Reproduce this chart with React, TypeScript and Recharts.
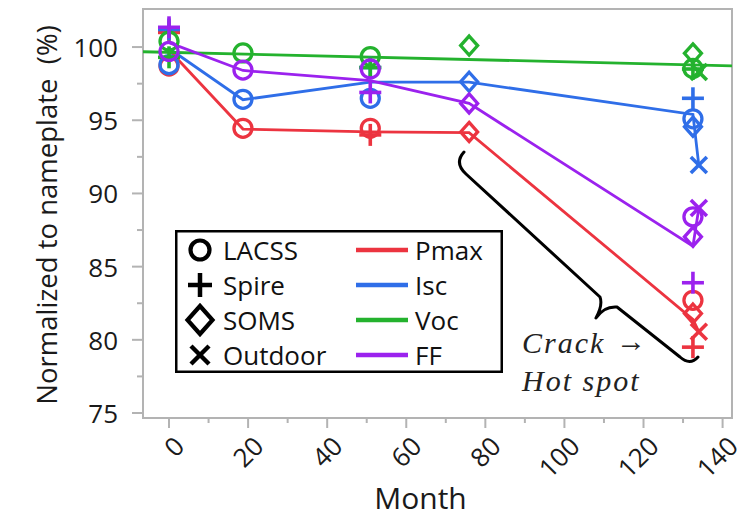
import React from 'react';
import { ComposedChart, Line, Scatter, XAxis, YAxis, ReferenceArea, Legend } from 'recharts';

// ---------- data ----------
const params = ['Pmax', 'Isc', 'Voc', 'FF'];
const methods = ['LACSS', 'Spire', 'SOMS', 'Outdoor'];
const COLORS: Record<string, string> = { Pmax: '#EC3440', Isc: '#2F6EE8', Voc: '#24B22E', FF: '#9B22EE' };

const xTicks = [0, 10, 20, 30, 40, 50, 60, 70, 80, 90, 100, 110, 120, 130, 140];
const yTicks = [75, 77.5, 80, 82.5, 85, 87.5, 90, 92.5, 95, 97.5, 100];
const xDomain = [-6.58, 142.38];
const yDomain = [74.66, 102.6];

// trend lines (mean of lab measurements, then to outdoor)
const trendMonths = [0, 18.7, 50.9, 75.9, 132.5, 134];
const pmaxTrend = [99.8, 94.4, 94.2, 94.15, 81.4, 80.55];
const iscTrend = [99.9, 96.4, 97.6, 97.6, 95.4, 91.9];
const ffTrend = [100.3, 98.4, 97.7, 96.15, 86.4, 89.0];
// Voc linear fit
const vocFitMonths = [-6.58, 142.38];
const vocFit = [99.68, 98.72];

// markers
const lacssMonths = [0, 18.7, 50.9, 132.5];
const lacssPmax = [98.7, 94.45, 94.45, 82.7];
const lacssIsc = [98.8, 96.43, 96.5, 95.1];
const lacssVoc = [100.4, 99.6, 99.35, 98.54];
const lacssFF = [99.7, 98.43, 98.5, 88.4];

const spireMonths = [0, 50.9, 132.5];
const spirePmax = [101.0, 94.0, 79.5];
const spireIsc = [101.2, 98.6, 96.5];
const spireVoc = [99.3, 98.6, 98.5];
const spireFF = [101.35, 96.9, 83.9];

const somsMonths = [75.9, 132.5];
const somsPmax = [94.2, 81.8];
const somsIsc = [97.63, 94.56];
const somsVoc = [100.1, 99.57];
const somsFF = [96.15, 87.04];

const outdoorMonths = [134];
const outdoorPmax = [80.55];
const outdoorIsc = [91.94];
const outdoorVoc = [98.3];
const outdoorFF = [89.0];

const annotationLines = ['Crack', '\u2192', 'Hot spot'];

// ---------- build series ----------
const toLine = (xs: number[], ys: number[]) => xs.map((x, i) => ({ x, y: ys[i] }));
const trendData: Record<string, { x: number; y: number }[]> = {
  Pmax: toLine(trendMonths, pmaxTrend),
  Isc: toLine(trendMonths, iscTrend),
  Voc: toLine(vocFitMonths, vocFit),
  FF: toLine(trendMonths, ffTrend),
};
const methodTable: Record<string, { months: number[]; vals: Record<string, number[]> }> = {
  LACSS: { months: lacssMonths, vals: { Pmax: lacssPmax, Isc: lacssIsc, Voc: lacssVoc, FF: lacssFF } },
  Spire: { months: spireMonths, vals: { Pmax: spirePmax, Isc: spireIsc, Voc: spireVoc, FF: spireFF } },
  SOMS: { months: somsMonths, vals: { Pmax: somsPmax, Isc: somsIsc, Voc: somsVoc, FF: somsFF } },
  Outdoor: { months: outdoorMonths, vals: { Pmax: outdoorPmax, Isc: outdoorIsc, Voc: outdoorVoc, FF: outdoorFF } },
};
const markerData = (p: string) => {
  const out: { x: number; y: number; method: string }[] = [];
  methods.forEach((m) => {
    const t = methodTable[m];
    t.months.forEach((x, i) => out.push({ x, y: t.vals[p][i], method: m }));
  });
  return out;
};

// ---------- shapes ----------
const MarkerShape = ({ kind, cx, cy, color, big }: any) => {
  const sw = big ? 4.2 : 3.3;
  if (kind === 'LACSS') {
    return <circle cx={cx} cy={cy} r={big ? 9.5 : 9} fill="none" stroke={color} strokeWidth={sw} />;
  }
  if (kind === 'Spire') {
    const h = big ? 12 : 11;
    return (
      <g stroke={color} strokeWidth={big ? 4.5 : 3.6} fill="none">
        <line x1={cx - h} y1={cy} x2={cx + h} y2={cy} />
        <line x1={cx} y1={cy - h} x2={cx} y2={cy + h} />
      </g>
    );
  }
  if (kind === 'SOMS') {
    const w = big ? 12.5 : 8.5;
    const hh = big ? 14 : 9.5;
    return (
      <polygon
        points={`${cx},${cy - hh} ${cx + w},${cy} ${cx},${cy + hh} ${cx - w},${cy}`}
        fill="none"
        stroke={color}
        strokeWidth={sw}
      />
    );
  }
  const h = big ? 9 : 8;
  return (
    <g stroke={color} strokeWidth={big ? 4.5 : 3.6}>
      <line x1={cx - h} y1={cy - h} x2={cx + h} y2={cy + h} />
      <line x1={cx - h} y1={cy + h} x2={cx + h} y2={cy - h} />
    </g>
  );
};

const FONT = '"Open Sans", "Liberation Sans", sans-serif';
const GRAY = '#b3b3b3';

const XTick = ({ x, y, payload }: any) => {
  const major = payload.value % 20 === 0;
  const ax = x + 10;
  const ay = y + 23;
  return (
    <g>
      <line x1={x} y1={y} x2={x} y2={y + (major ? 10 : 5)} stroke={GRAY} strokeWidth={2} />
      {major && (
        <text
          x={ax}
          y={ay}
          transform={`rotate(-45, ${ax}, ${ay})`}
          textAnchor="end"
          dominantBaseline="central"
          fontSize={26}
          fontFamily={FONT}
          fill="#1a1a1a"
        >
          {payload.value}
        </text>
      )}
    </g>
  );
};

const YTick = ({ x, y, payload }: any) => {
  const major = payload.value % 5 === 0;
  return (
    <g>
      <line x1={x - (major ? 11 : 6)} y1={y} x2={x} y2={y} stroke={GRAY} strokeWidth={2} />
      {major && (
        <text x={x - 25} y={y} textAnchor="end" dominantBaseline="central" fontSize={26} fontFamily={FONT} fill="#1a1a1a">
          {payload.value}
        </text>
      )}
    </g>
  );
};

const XTitle = (props: any) => {
  const vb = props.viewBox;
  return (
    <text
      x={vb.x + vb.width / 2 - 17}
      y={vb.y + 79}
      textAnchor="middle"
      dominantBaseline="central"
      fontSize={30}
      fontFamily={FONT}
      fill="#1a1a1a"
    >
      Month
    </text>
  );
};

const YTitle = (props: any) => {
  const vb = props.viewBox;
  const cx = vb.x + 46;
  const cy = vb.y + vb.height / 2 + 1.5;
  return (
    <text
      x={cx}
      y={cy}
      transform={`rotate(-90, ${cx}, ${cy})`}
      textAnchor="middle"
      dominantBaseline="central"
      fontSize={27.5}
      fontFamily={FONT}
      fill="#1a1a1a"
      style={{ whiteSpace: 'pre' }}
    >
      {'Normalized to nameplate  (%)'}
    </text>
  );
};

const rowY = [20, 55, 90, 125];
const LegendBox = () => (
  <svg width={328} height={143} style={{ display: 'block' }}>
    <rect x={1.25} y={1.25} width={325.5} height={140.5} fill="#fff" stroke="#000" strokeWidth={2.5} />
    {methods.map((m, i) => (
      <g key={m}>
        <MarkerShape kind={m} cx={25} cy={rowY[i]} color="#000" big />
        <text x={48} y={rowY[i]} dominantBaseline="central" fontSize={26} fontFamily={FONT} fill="#111">
          {m}
        </text>
      </g>
    ))}
    {params.map((p, i) => (
      <g key={p}>
        <line x1={181} x2={233} y1={rowY[i]} y2={rowY[i]} stroke={COLORS[p]} strokeWidth={4.5} />
        <text x={240} y={rowY[i]} dominantBaseline="central" fontSize={26} fontFamily={FONT} fill="#111">
          {p}
        </text>
      </g>
    ))}
  </svg>
);

const SERIF = '"Liberation Serif", "Times New Roman", serif';
const Annotation = () => (
  <svg width={754} height={517} style={{ position: 'absolute', left: 0, top: 0, pointerEvents: 'none' }}>
    <path
      d="M 464 152 Q 454 163 466 174 L 600 297 Q 603 305 596 318 Q 604 306 617 307 L 680 357 Q 690 366 698 357"
      fill="none"
      stroke="#000"
      strokeWidth={3}
      strokeLinejoin="round"
      strokeLinecap="round"
    />
    <text x={522} y={353} fontSize={30} fontStyle="italic" fontFamily={SERIF} fill="#222" letterSpacing={2}>
      {annotationLines[0]}
    </text>
    <text x={616} y={351} fontSize={30} fontFamily={SERIF} fill="#222">
      {annotationLines[1]}
    </text>
    <text x={522} y={391} fontSize={30} fontStyle="italic" fontFamily={SERIF} fill="#222" letterSpacing={2} style={{ whiteSpace: 'pre' }}>
      {annotationLines[2]}
    </text>
  </svg>
);

export default function App() {
  return (
    <div style={{ position: 'absolute', left: 0, top: 0, width: 754, height: 517, background: '#fff' }}>
      <ComposedChart width={754} height={517} margin={{ top: 9, right: 22, bottom: 0, left: 0 }}>
        <XAxis
          type="number"
          dataKey="x"
          domain={xDomain}
          allowDataOverflow
          ticks={xTicks}
          interval={0}
          tick={<XTick />}
          tickSize={0}
          tickMargin={0}
          tickLine={false}
          axisLine={false}
          height={99}
          label={{ content: XTitle }}
        />
        <YAxis
          type="number"
          dataKey="y"
          domain={yDomain}
          allowDataOverflow
          ticks={yTicks}
          interval={0}
          tick={<YTick />}
          tickSize={0}
          tickMargin={0}
          tickLine={false}
          axisLine={false}
          width={143}
          label={{ content: YTitle }}
        />
        <ReferenceArea
          x1={xDomain[0]}
          x2={xDomain[1]}
          y1={yDomain[0]}
          y2={yDomain[1]}
          fill="none"
          fillOpacity={0}
          stroke={GRAY}
          strokeWidth={2}
          ifOverflow="visible"
        />
        {params.map((p) => (
          <Line
            key={'l' + p}
            data={trendData[p]}
            dataKey="y"
            type="linear"
            stroke={COLORS[p]}
            strokeWidth={2.8}
            dot={false}
            activeDot={false}
            isAnimationActive={false}
            legendType="none"
          />
        ))}
        {params.map((p) => (
          <Scatter
            key={'s' + p}
            data={markerData(p)}
            dataKey="y"
            isAnimationActive={false}
            legendType="none"
            shape={(props: any) => (
              <MarkerShape kind={props.payload.method} cx={props.cx} cy={props.cy} color={COLORS[p]} />
            )}
          />
        ))}
        <Legend
          content={() => <LegendBox />}
          layout="vertical"
          align="center"
          verticalAlign="middle"
          width={328}
          height={143}
          wrapperStyle={{ left: 175, top: 230, width: 328, height: 143 }}
        />
      </ComposedChart>
      <Annotation />
    </div>
  );
}
